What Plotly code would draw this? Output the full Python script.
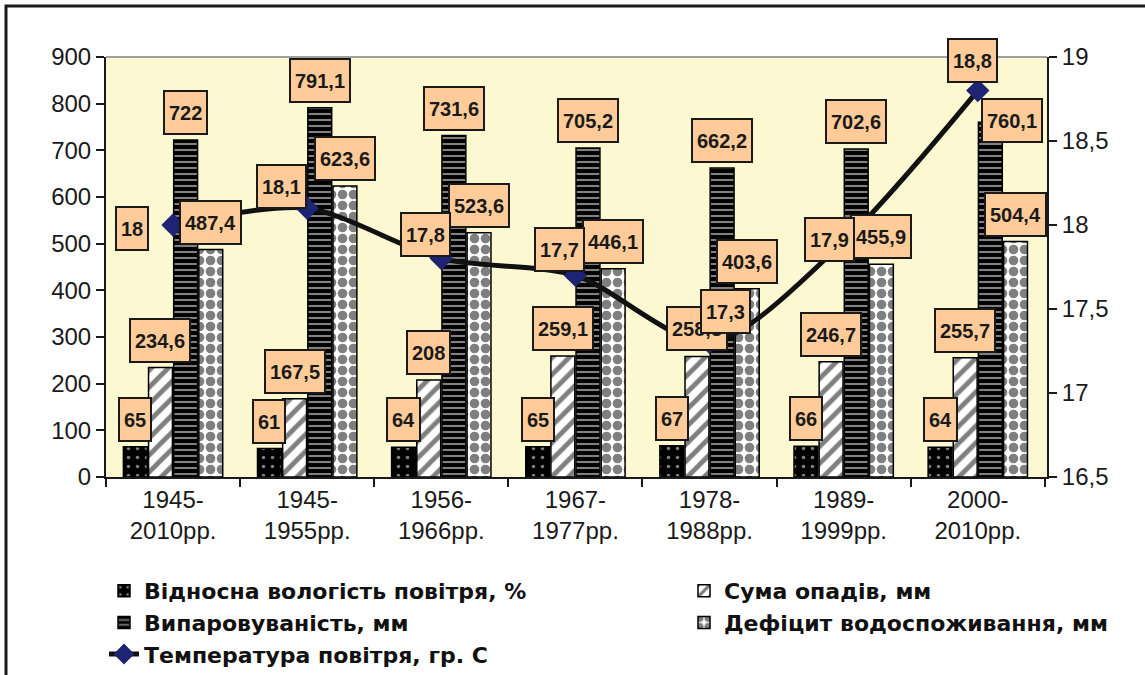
import plotly.graph_objects as go

# ---------------- data ----------------
categories = ["1945-<br>2010рр.", "1945-<br>1955рр.", "1956-<br>1966рр.",
              "1967-<br>1977рр.", "1978-<br>1988рр.", "1989-<br>1999рр.",
              "2000-<br>2010рр."]
humidity = [65, 61, 64, 65, 67, 66, 64]
precipitation = [234.6, 167.5, 208, 259.1, 258.3, 246.7, 255.7]
evaporation = [722, 791.1, 731.6, 705.2, 662.2, 702.6, 760.1]
deficit = [487.4, 623.6, 523.6, 446.1, 403.6, 455.9, 504.4]
temperature = [18, 18.1, 17.8, 17.7, 17.3, 17.9, 18.8]

names = ["Відносна вологість повітря, %", "Сума опадів, мм",
         "Випаровуваність, мм", "Дефіцит водоспоживання, мм",
         "Температура повітря, гр. С"]

# ---------------- style ----------------
W, H = 1145, 675
ML, MR, MT, MB = 106, 98, 57, 198
BARGAP, BARGROUPGAP = 0.25, 0.05
LABEL_FILL = "#FFCC99"
TICK_FONT = dict(family="Liberation Sans, Arial", size=24, color="#1a1a1a")
LEG_FONT = dict(family="DejaVu Sans", size=22, color="#111111")

patterns = [
    dict(shape=".", fgcolor="white", bgcolor="black", size=9, solidity=0.12),
    dict(shape="/", fgcolor="black", bgcolor="white", size=12, solidity=0.4),
    dict(shape="-", fgcolor="white", bgcolor="black", size=6, solidity=0.35),
    dict(shape=".", fgcolor="black", bgcolor="white", size=11, solidity=0.6),
]
legend_of = ["legend", "legend2", "legend", "legend2"]

# per-label extra pixel shifts (series index, category index) -> (dx, dy)
bar_label_extra = {(2, 6): (22, -26)}
temp_label_shift = [(-41, -3), (-26, 22), (-16, 24), (-16, 26), (16, 31), (-14, 2), (-5, 30)]

series = [humidity, precipitation, evaporation, deficit]

fig = go.Figure()
for k, vals in enumerate(series):
    fig.add_trace(go.Bar(
        x=categories, y=vals, name=f"<b>{names[k]}</b>",
        marker=dict(color=patterns[k]["bgcolor"],
                    line=dict(color="black", width=1.5),
                    pattern=patterns[k]),
        legend=legend_of[k],
    ))

fig.add_trace(go.Scatter(
    x=categories, y=temperature, name=f"<b>{names[4]}</b>", yaxis="y2",
    mode="lines+markers",
    line=dict(color="#111111", width=5, shape="spline", smoothing=0.8),
    marker=dict(symbol="diamond", size=18, color="#1F2374"),
    legend="legend",
))


def fmt(v):
    return f"{v:g}".replace(".", ",")


LABEL_STYLE = dict(
    showarrow=False,
    font=dict(family="Liberation Sans, Arial", size=20, color="#1a1a1a"),
    bgcolor=LABEL_FILL, bordercolor="#1a1a1a", borderwidth=2, borderpad=4,
    height=33,
)

annotations = []
slot = (1 - BARGAP) / 4
for k, vals in enumerate(series):
    for i, v in enumerate(vals):
        dx, dy = bar_label_extra.get((k, i), (0, 0))
        annotations.append(dict(
            x=i + (k - 1.5) * slot, y=v, xref="x", yref="y",
            text=f"<b>{fmt(v)}</b>",
            xanchor="center", yanchor="bottom", xshift=dx, yshift=5 + dy,
            **LABEL_STYLE,
        ))
for i, v in enumerate(temperature):
    dx, dy = temp_label_shift[i]
    annotations.append(dict(
        x=i, y=v, xref="x", yref="y2",
        text=f"<b>{fmt(v)}</b>",
        xanchor="center", yanchor="middle", xshift=dx, yshift=dy,
        **LABEL_STYLE,
    ))

pw, ph = W - ML - MR, H - MT - MB


def px_x(p):
    return (p - ML) / pw


def px_y(p):
    return (H - MB - p) / ph


shapes = [
    # outer frame (cropped on right & bottom)
    dict(type="rect", xref="paper", yref="paper",
         x0=px_x(6), x1=px_x(W + 20), y0=px_y(H + 20), y1=px_y(6),
         line=dict(color="#1a1a1a", width=3), fillcolor="rgba(0,0,0,0)", layer="above"),
    # grey top border of plot area
    dict(type="line", xref="paper", yref="paper", x0=0, x1=1, y0=1, y1=1,
         line=dict(color="#A0A0A0", width=2)),
]

axis_common = dict(showline=True, linecolor="#1a1a1a", linewidth=2,
                   ticks="outside", ticklen=8, tickwidth=2, tickcolor="#1a1a1a",
                   showgrid=False, zeroline=False, tickfont=TICK_FONT)

fig.update_layout(
    width=W, height=H,
    margin=dict(l=ML, r=MR, t=MT, b=MB, autoexpand=False),
    paper_bgcolor="white", plot_bgcolor="#FCF8D2",
    barmode="group", bargap=BARGAP, bargroupgap=BARGROUPGAP,
    separators=", ",
    xaxis=dict(type="category", tickson="boundaries", **axis_common),
    yaxis=dict(range=[0, 900], dtick=100, **axis_common),
    yaxis2=dict(range=[16.5, 19], dtick=0.5, overlaying="y", side="right", **axis_common),
    showlegend=True,
    legend=dict(x=px_x(104), y=px_y(570), xanchor="left", yanchor="top",
                orientation="v", font=LEG_FONT, bgcolor="rgba(0,0,0,0)",
                traceorder="normal", tracegroupgap=0),
    legend2=dict(x=px_x(684), y=px_y(570), xanchor="left", yanchor="top",
                 orientation="v", font=LEG_FONT, bgcolor="rgba(0,0,0,0)",
                 traceorder="normal", tracegroupgap=0),
    annotations=annotations,
    shapes=shapes,
)

fig.write_html("out.html", config={"displayModeBar": False},
               post_script="document.body.style.margin='0px';")
